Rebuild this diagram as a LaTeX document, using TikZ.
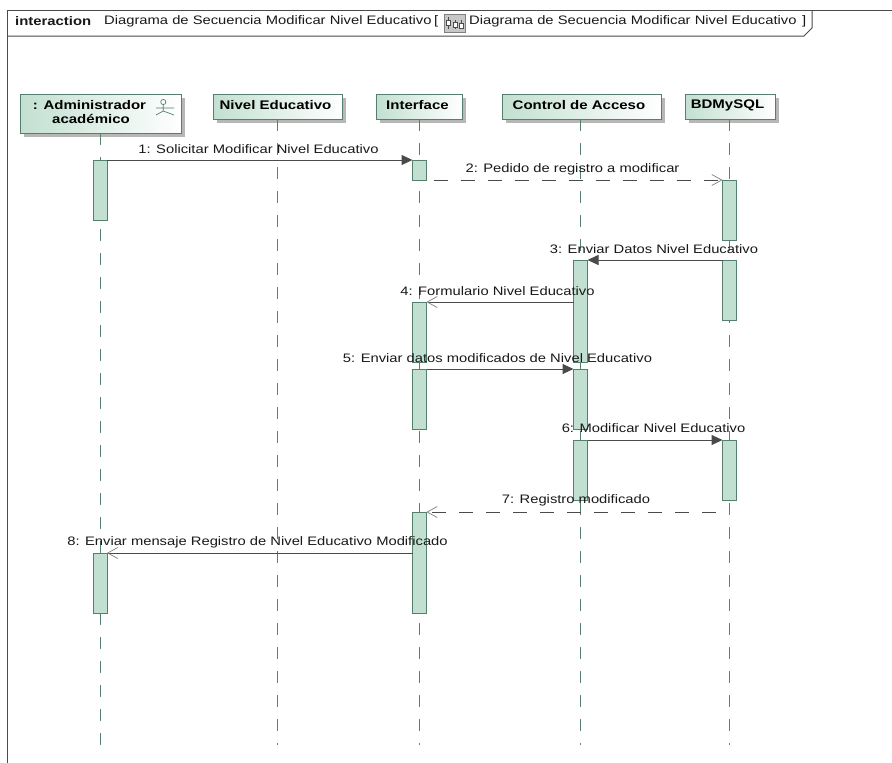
\documentclass[tikz,border=0pt]{standalone}
\usepackage{fontspec}
\setmainfont{Liberation Sans}[FakeStretch=1.2]
\usetikzlibrary{arrows.meta,shadows}
\definecolor{bargreen}{HTML}{C2E0D1}
\definecolor{edgegreen}{HTML}{55806E}
\definecolor{linegray}{HTML}{4A4A4A}
\tikzset{
  x=1pt,y=-1pt,
  headbox/.style={draw=edgegreen,line width=1pt,left color=bargreen,right color=white,inner sep=0pt,outer sep=0pt,
    font=\bfseries\fontsize{12.4}{14}\selectfont,align=center,text=black!90,
    drop shadow={shadow xshift=3.5pt,shadow yshift=-3.5pt,fill=black!35,opacity=0.8}},
  headtxt/.style={inner sep=0pt,font=\bfseries\fontsize{12.5}{14}\selectfont,text=black},
  lifeline/.style={draw=edgegreen,line width=1pt,dash pattern=on 12pt off 12pt},
  bar/.style={draw=edgegreen,fill=bargreen,line width=1pt,inner sep=0pt,outer sep=0pt,minimum width=14pt},
  msg/.style={draw=linegray,line width=1pt},
  syncmsg/.style={msg,-{Triangle[length=11pt,width=10pt,fill=linegray]}},
  asyncmsg/.style={msg,-{Straight Barb[length=10pt,width=11pt,line width=0.7pt,color=gray]}},
  retmsg/.style={asyncmsg,dash pattern=on 14pt off 13pt,dash phase=20pt},
  lbl/.style={inner sep=0pt,font=\fontsize{12.3}{14}\selectfont,text=black!90},
  frameline/.style={draw=linegray,line width=1pt}
}
\begin{document}
\begin{tikzpicture}
\useasboundingbox (0,0) rectangle (892,763);
\fill[white] (0,0) rectangle (892,763);
% frame
\draw[frameline] (892,10) -- (7,10) -- (7,763);
\draw[frameline] (7,36) -- (804,36) -- (812,28) -- (812,10);
\node[lbl,anchor=west,font=\fontsize{12.4}{14}\bfseries\selectfont] (kw) at (15,21) {interaction};
\node[lbl,anchor=west] (t1) at (104,21) {Diagrama de Secuencia Modificar Nivel Educativo};
\node[lbl,anchor=west] (b1) at (434,21) {[};
\draw[gray,fill=black!22,line width=0.6pt] (444,14) rectangle (465,32);
\draw[black!70,line width=0.6pt] (448,17) -- (448,29) (455,20) -- (455,29) (461,20) -- (461,29);
\draw[black!70,fill=white,line width=0.5pt] (446,20) rectangle (450,25) (453,22) rectangle (457,27) (459,23) rectangle (463,28);
\node[lbl,anchor=west] (t2) at (469,21) {Diagrama de Secuencia Modificar Nivel Educativo};
\node[lbl,anchor=west] (b2) at (802,21) {]};
% heads
\node[headbox,minimum width=161pt,minimum height=39pt] (admin) at (100.5,113.5) {};
\node[headtxt] (adminT) at (89.5,105) {: Administrador};
\node[headtxt] (adminU) at (91,119) {académico};
\draw[edgegreen,line width=0.7pt] (163.3,102) circle (2.6) (163.3,104.6) -- (163.3,111) (156,108) -- (174,108) (156,115) -- (163.3,111) -- (174,115);
\node[headbox,minimum width=129pt,minimum height=25pt] (nivel) at (277.5,106.5) {};
\node[headtxt] (nivelT) at (275.5,105) {Nivel Educativo};
\node[headbox,minimum width=86pt,minimum height=25pt] (iface) at (419.5,106.5) {};
\node[headtxt] (ifaceT) at (417.5,105) {Interface};
\node[headbox,minimum width=159pt,minimum height=25pt] (ctrl) at (581.5,106.5) {};
\node[headtxt] (ctrlT) at (579,105) {Control de Acceso};
\node[headbox,minimum width=90pt,minimum height=25pt] (bd) at (730,106.5) {};
\node[headtxt] (bdT) at (727.5,105) {BDMySQL};
% lifeline ends
\coordinate (adminE) at (100,745);
\coordinate (nivelE) at (277,745);
\coordinate (ifaceE) at (419.5,745);
\coordinate (ctrlE) at (580,745);
\coordinate (bdE) at (729.5,745);
\draw[lifeline] (adminE |- admin.south) -- (adminE);
\draw[lifeline] (nivelE |- nivel.south) -- (nivelE);
\draw[lifeline] (ifaceE |- iface.south) -- (ifaceE);
\draw[lifeline] (ctrlE |- ctrl.south) -- (ctrlE);
\draw[lifeline] (bdE |- bd.south) -- (bdE);
% activation bars
\node[bar,minimum height=60pt] (a1) at (100,190) {};
\node[bar,minimum height=60pt] (a2) at (100,583) {};
\node[bar,minimum height=20pt] (i1) at (419.5,170) {};
\node[bar,minimum height=60pt] (i2) at (419.5,332) {};
\node[bar,minimum height=60pt] (i3) at (419.5,399) {};
\node[bar,minimum height=101pt] (i4) at (419.5,562.5) {};
\node[bar,minimum height=102pt] (c1) at (580.5,311) {};
\node[bar,minimum height=60pt] (c2) at (580.5,399) {};
\node[bar,minimum height=60pt] (c3) at (580.5,470) {};
\node[bar,minimum height=60pt] (d1) at (729.5,210) {};
\node[bar,minimum height=60pt] (d2) at (729.5,290) {};
\node[bar,minimum height=60pt] (d3) at (729.5,470) {};
% messages
\draw[syncmsg] (a1.north east) -- (i1.north west);
\draw[retmsg] (i1.south east) -- (d1.north west);
\draw[syncmsg] (d2.north west) -- (c1.north east);
\draw[asyncmsg] (c1.west |- i2.north) -- (i2.north east);
\draw[syncmsg] (i3.north east) -- (c2.north west);
\draw[syncmsg] (c3.north east) -- (d3.north west);
\draw[retmsg] (d3.west |- i4.north) -- (i4.north east);
\draw[asyncmsg] (i4.west |- a2.north) -- (a2.north east);
% labels
\node[lbl] (m1) at (258.5,149) {1: Solicitar Modificar Nivel Educativo};
\node[lbl] (m2) at (572.5,169) {2: Pedido de registro a modificar};
\node[lbl] (m3) at (654,249) {3: Enviar Datos Nivel Educativo};
\node[lbl] (m4) at (497.5,291) {4: Formulario Nivel Educativo};
\node[lbl] (m5) at (497.5,358) {5: Enviar datos modificados de Nivel Educativo};
\node[lbl] (m6) at (653.5,428) {6: Modificar Nivel Educativo};
\node[lbl] (m7) at (576,500) {7: Registro modificado};
\node[lbl] (m8) at (257.5,542) {8: Enviar mensaje Registro de Nivel Educativo Modificado};
\end{tikzpicture}
\end{document}
